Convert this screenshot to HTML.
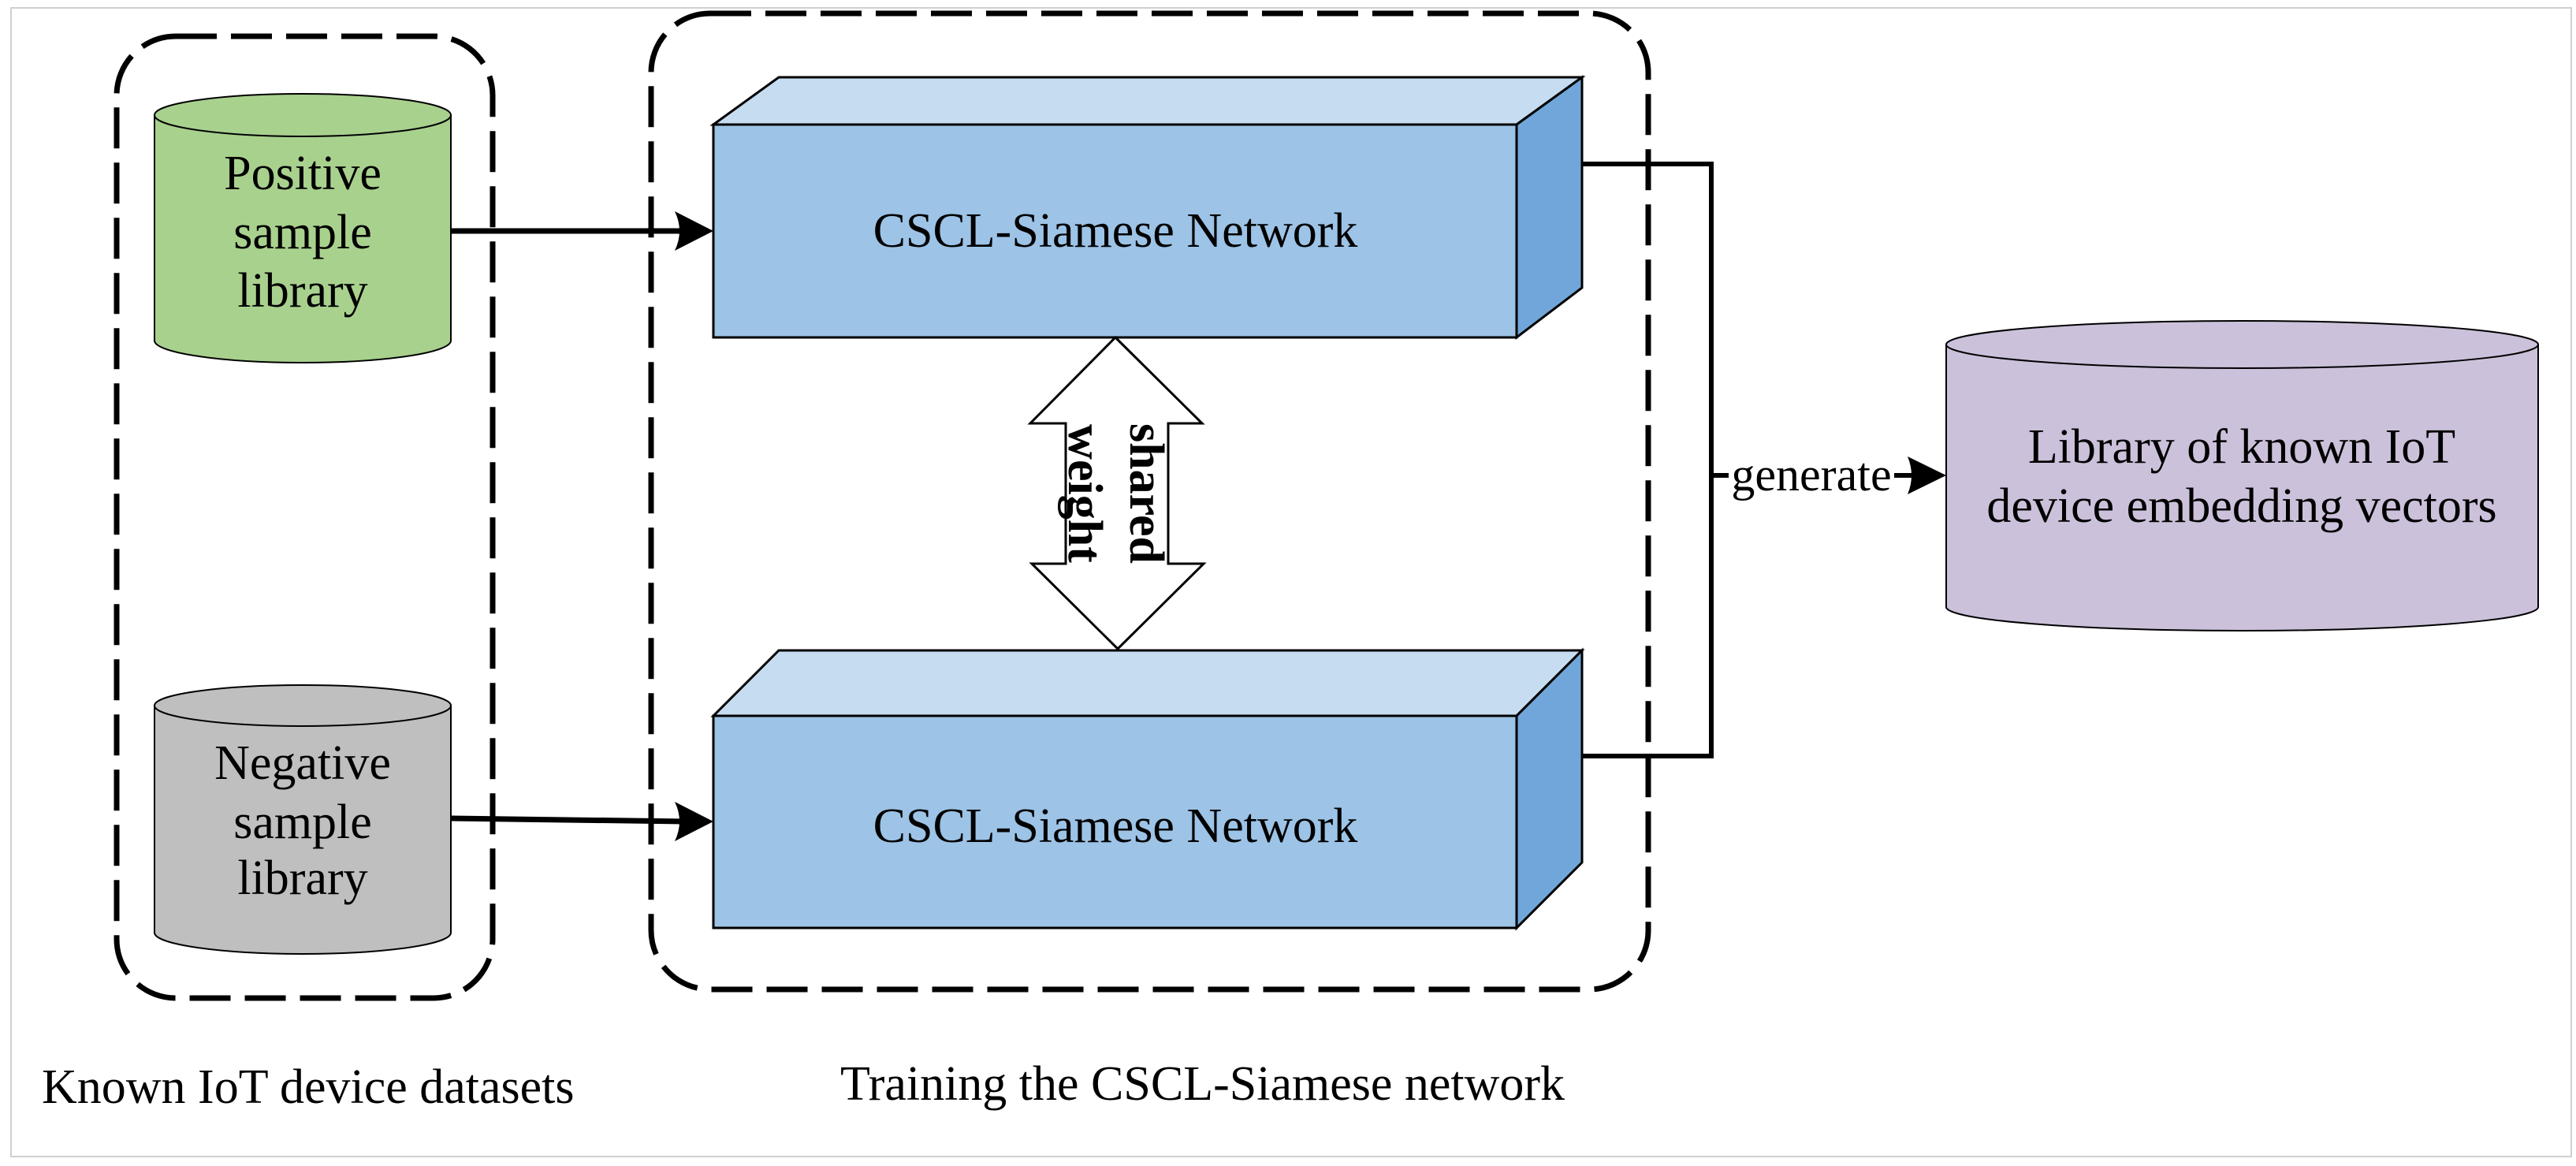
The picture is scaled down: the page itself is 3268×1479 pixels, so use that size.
<!DOCTYPE html>
<html><head><meta charset="utf-8"><style>
html,body{margin:0;padding:0;background:#fff;}
svg{display:block;}
text{font-family:"Liberation Serif",serif;fill:#000;}
</style></head><body>
<svg width="3268" height="1479" viewBox="0 0 3268 1479" xmlns="http://www.w3.org/2000/svg">
<rect x="14" y="10" width="3248" height="1457" fill="#fff" stroke="#d0d0d0" stroke-width="2"/>

<!-- dashed group boxes -->
<rect x="148" y="46" width="477" height="1220" rx="75" ry="75" fill="none" stroke="#000" stroke-width="7" stroke-dasharray="52 18"/>
<rect x="826" y="17" width="1265" height="1238" rx="75" ry="75" fill="none" stroke="#000" stroke-width="7" stroke-dasharray="52 18"/>

<!-- green cylinder -->
<path d="M196 146 L196 432 A188 28 0 0 0 572 432 L572 146 Z" fill="#a9d18e" stroke="#000" stroke-width="2"/>
<ellipse cx="384" cy="146" rx="188" ry="27" fill="#a9d18e" stroke="#000" stroke-width="2"/>
<text x="384" y="240" font-size="62" text-anchor="middle">Positive</text>
<text x="384" y="315" font-size="62" text-anchor="middle">sample</text>
<text x="384" y="389" font-size="62" text-anchor="middle">library</text>

<!-- gray cylinder -->
<path d="M196 895 L196 1183 A188 27 0 0 0 572 1183 L572 895 Z" fill="#bfbfbf" stroke="#000" stroke-width="2"/>
<ellipse cx="384" cy="895" rx="188" ry="26" fill="#bfbfbf" stroke="#000" stroke-width="2"/>
<text x="384" y="988" font-size="62" text-anchor="middle">Negative</text>
<text x="384" y="1063" font-size="62" text-anchor="middle">sample</text>
<text x="384" y="1134" font-size="62" text-anchor="middle">library</text>

<!-- cube 1 -->
<polygon points="905,158 988,98 2007,98 1924,158" fill="#c6dcf0" stroke="#000" stroke-width="3"/>
<polygon points="1924,158 2007,98 2007,365 1924,428" fill="#70a6d9" stroke="#000" stroke-width="3"/>
<rect x="905" y="158" width="1019" height="270" fill="#9dc3e6" stroke="#000" stroke-width="3"/>
<text x="1415" y="313" font-size="62" text-anchor="middle">CSCL-Siamese Network</text>

<!-- cube 2 -->
<polygon points="905,908 988,825 2007,825 1924,908" fill="#c6dcf0" stroke="#000" stroke-width="3"/>
<polygon points="1924,908 2007,825 2007,1094 1924,1177" fill="#70a6d9" stroke="#000" stroke-width="3"/>
<rect x="905" y="908" width="1019" height="269" fill="#9dc3e6" stroke="#000" stroke-width="3"/>
<text x="1415" y="1068" font-size="62" text-anchor="middle">CSCL-Siamese Network</text>

<!-- arrows from cylinders -->
<line x1="572" y1="293" x2="870" y2="293" stroke="#000" stroke-width="7"/>
<path d="M905 293 L856 268 Q868 293 856 318 Z" fill="#000"/>
<line x1="572" y1="1038" x2="870" y2="1042" stroke="#000" stroke-width="7"/>
<path d="M905 1042 L856 1017 Q868 1042 856 1067 Z" fill="#000"/>

<!-- double arrow shared weight -->
<polygon points="1415,428 1525,537 1482,537 1482,715 1527,715 1418,823 1309,715 1352,715 1352,537 1307,537" fill="#fff" stroke="#000" stroke-width="3"/>
<text font-size="62" font-weight="bold" transform="translate(1434,626) rotate(90)" text-anchor="middle">shared</text>
<text font-size="62" font-weight="bold" transform="translate(1356,626) rotate(90)" text-anchor="middle">weight</text>

<!-- right connectors -->
<polyline points="2007,208 2171,208 2171,959 2007,959" fill="none" stroke="#000" stroke-width="6"/>
<line x1="2171" y1="603" x2="2193" y2="603" stroke="#000" stroke-width="6"/>
<line x1="2403" y1="603" x2="2430" y2="603" stroke="#000" stroke-width="6"/>
<text x="2298" y="622" font-size="60" text-anchor="middle">generate</text>
<path d="M2469 603 L2420 579 Q2430 603 2420 627 Z" fill="#000"/>

<!-- purple cylinder -->
<path d="M2469 437 L2469 770 A375 30 0 0 0 3220 770 L3220 437 Z" fill="#ccc1da" stroke="#000" stroke-width="2"/>
<ellipse cx="2844.5" cy="437" rx="375.5" ry="30" fill="#ccc1da" stroke="#000" stroke-width="2"/>
<text x="2844" y="587" font-size="62" text-anchor="middle">Library of known IoT</text>
<text x="2844" y="662" font-size="62" text-anchor="middle">device embedding vectors</text>

<!-- bottom labels -->
<text x="53" y="1399" font-size="62">Known IoT device datasets</text>
<text x="1066" y="1395" font-size="62">Training the CSCL-Siamese network</text>
</svg>
</body></html>
